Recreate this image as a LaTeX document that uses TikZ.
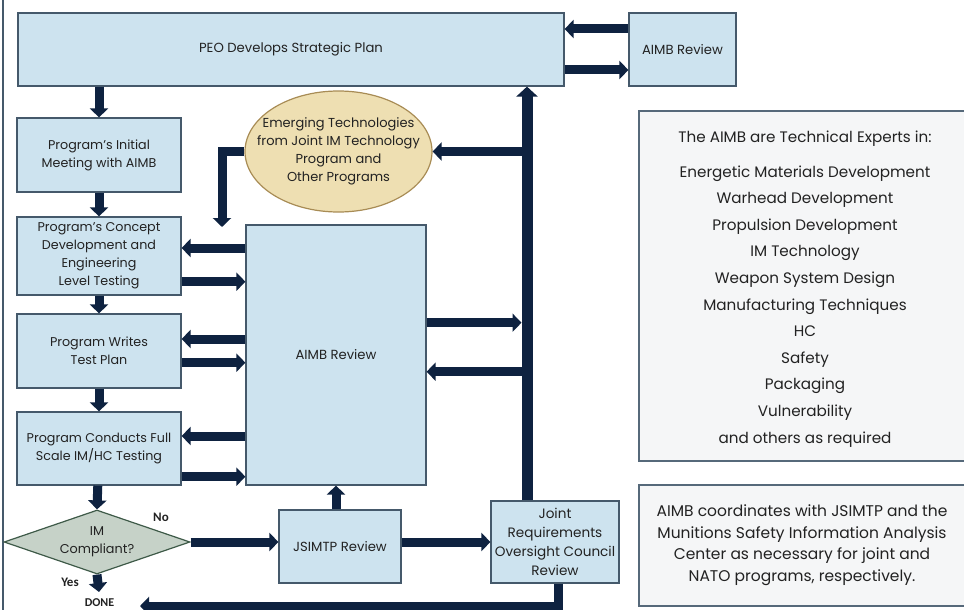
\documentclass[tikz,border=0pt]{standalone}
\usepackage{fontspec}
\setmainfont{Poppins}
\newfontfamily\labfont{Carlito}
\usetikzlibrary{arrows.meta,shapes.geometric}
\definecolor{boxfill}{HTML}{CDE3EF}
\definecolor{boxline}{HTML}{45596B}
\definecolor{navy}{HTML}{0E2240}
\definecolor{ellfill}{HTML}{EEDFB2}
\definecolor{ellline}{HTML}{A88C55}
\definecolor{diafill}{HTML}{C6D2C8}
\definecolor{dialine}{HTML}{3E5A48}
\definecolor{notefill}{HTML}{F5F6F7}
\definecolor{noteline}{HTML}{56697A}
\definecolor{txt}{HTML}{222222}
\tikzset{
  blk/.style={draw=boxline, fill=boxfill, line width=1.2pt, align=center, text=txt, inner sep=2pt,
    font=\fontsize{13.2}{18}\selectfont},
  lft/.style={blk, font=\fontsize{12.7}{18}\selectfont},
  arr/.style={draw=navy, line width=9pt, -{Triangle[length=9pt,width=18pt]}},
  bigarr/.style={draw=navy, line width=11pt, -{Triangle[length=10pt,width=21pt]}},
  lbl/.style={font=\labfont\bfseries\fontsize{13}{15}\selectfont, text=txt, inner sep=0pt},
  note/.style={draw=noteline, fill=notefill, line width=1.2pt, align=center, text=txt}
}
\begin{document}
\begin{tikzpicture}[x=1pt,y=-1pt]
\useasboundingbox (0,0) rectangle (964,610);
\draw[boxline, line width=1.2pt] (3,0) -- (3,610);

% nodes
\node[blk, minimum width=546pt, minimum height=73pt] (peo) at (291,49.5) {PEO Develops Strategic Plan};
\node[blk, minimum width=107pt, minimum height=73pt] (aimbt) at (682.5,49.5) {AIMB Review};
\node[lft, minimum width=164pt, minimum height=74pt] (b1) at (99,155) {Program’s Initial\\Meeting with AIMB};
\node[lft, minimum width=164pt, minimum height=78pt] (b2) at (99,256) {Program’s Concept\\Development and\\Engineering\\Level Testing};
\node[lft, minimum width=164pt, minimum height=74pt] (b3) at (99,351) {Program Writes\\Test Plan};
\node[lft, minimum width=164pt, minimum height=73pt] (b4) at (99,448.5) {Program Conducts Full\\Scale IM/HC Testing};
\node[blk, minimum width=180pt, minimum height=260pt] (big) at (336,355) {AIMB Review};
\node[ellipse, draw=ellline, fill=ellfill, line width=1.2pt, align=center, text=txt,
  inner xsep=-18pt, inner ysep=-4pt,
  minimum width=187pt, minimum height=121pt, font=\fontsize{13}{18}\selectfont] (ell) at (338.5,151.5)
  {Emerging Technologies\\from Joint IM Technology\\Program and\\Other Programs};
\node[diamond, draw=dialine, fill=diafill, line width=1.2pt, align=center, text=txt, inner sep=0pt,
  shape aspect=2.9, minimum width=186pt, minimum height=64pt, font=\fontsize{12.8}{18}\selectfont] (dia) at (97,542)
  {IM\\Compliant?};
\node[blk, minimum width=122pt, minimum height=73pt] (jsimtp) at (340,546.5) {JSIMTP Review};
\node[blk, minimum width=128pt, minimum height=82pt, inner sep=0pt, font=\fontsize{13.6}{19}\selectfont] (jroc) at (555,542)
  {Joint\\Requirements\\Oversight Council\\Review};
\node[note, minimum width=332pt, minimum height=350pt] (notea) at (805,286) {};
\node[align=center, text=txt, font=\fontsize{15.2}{26.6}\selectfont] (noteatext) at (805,289)
  {The AIMB are Technical Experts in:\\[8pt]
   Energetic Materials Development\\Warhead Development\\Propulsion Development\\IM Technology\\
   Weapon System Design\\Manufacturing Techniques\\HC\\Safety\\Packaging\\Vulnerability\\and others as required};
\node[note, minimum width=332pt, minimum height=121pt] (noteb) at (805,545.5) {};
\node[align=center, text=txt, font=\fontsize{15.5}{21.5}\selectfont] (notebtext) at (802,545)
  {AIMB coordinates with JSIMTP and the\\Munitions Safety Information Analysis\\Center as necessary for joint and\\NATO programs, respectively.};
\node[lbl] (no) at (161,517) {No};
\node[lbl] (yes) at (70,582) {Yes};
\node[lbl, font=\labfont\bfseries\fontsize{12}{14}\selectfont] (done) at (99.5,603) {DONE};

% helper coordinates
\coordinate (vx) at (527,0);
\coordinate (ellend) at (222,227);
\coordinate (yesend) at (99,592);
\coordinate (jx) at (558,606);
\coordinate (doneend) at (140,606);

% connectors
\draw[arr] (peo.south -| b1) -- (b1.north);
\draw[arr] (b1) -- (b2);
\draw[arr] (b2) -- (b3);
\draw[arr] (b3) -- (b4);
\draw[arr] (b4) -- (dia.north);
\draw[arr] (dia.south) -- (yesend);
\draw[arr] (aimbt.west |- 0,29) -- (peo.east |- 0,29);
\draw[arr] (peo.east |- 0,70) -- (aimbt.west |- 0,70);
\draw[arr] (big.west |- 0,248) -- (b2.east |- 0,248);
\draw[arr] (b2.east |- 0,281.7) -- (big.west |- 0,281.7);
\draw[arr] (big.west |- 0,339) -- (b3.east |- 0,339);
\draw[arr] (b3.east |- 0,362.7) -- (big.west |- 0,362.7);
\draw[arr] (big.west |- 0,436) -- (b4.east |- 0,436);
\draw[arr] (b4.east |- 0,476.7) -- (big.west |- 0,476.7);
\draw[arr] (big.east |- 0,322.7) -- ([xshift=-5.5pt]vx |- 0,322.7);
\draw[arr] (vx |- 0,371.7) -- (big.east |- 0,371.7);
\draw[arr] (vx |- ell.east) -- (ell.east);
\draw[arr] (ell.west) -| (ellend);
\draw[arr] (dia.east) -- (dia.east -| jsimtp.west);
\draw[arr] (dia.east -| jsimtp.east) -- (dia.east -| jroc.west);
\draw[arr] (big.south |- jsimtp.north) -- (big.south);
\draw[bigarr] (vx |- jroc.north) -- (vx |- peo.south);
\draw[arr] (jx |- jroc.south) -- (jx) -- (doneend);
\end{tikzpicture}
\end{document}
